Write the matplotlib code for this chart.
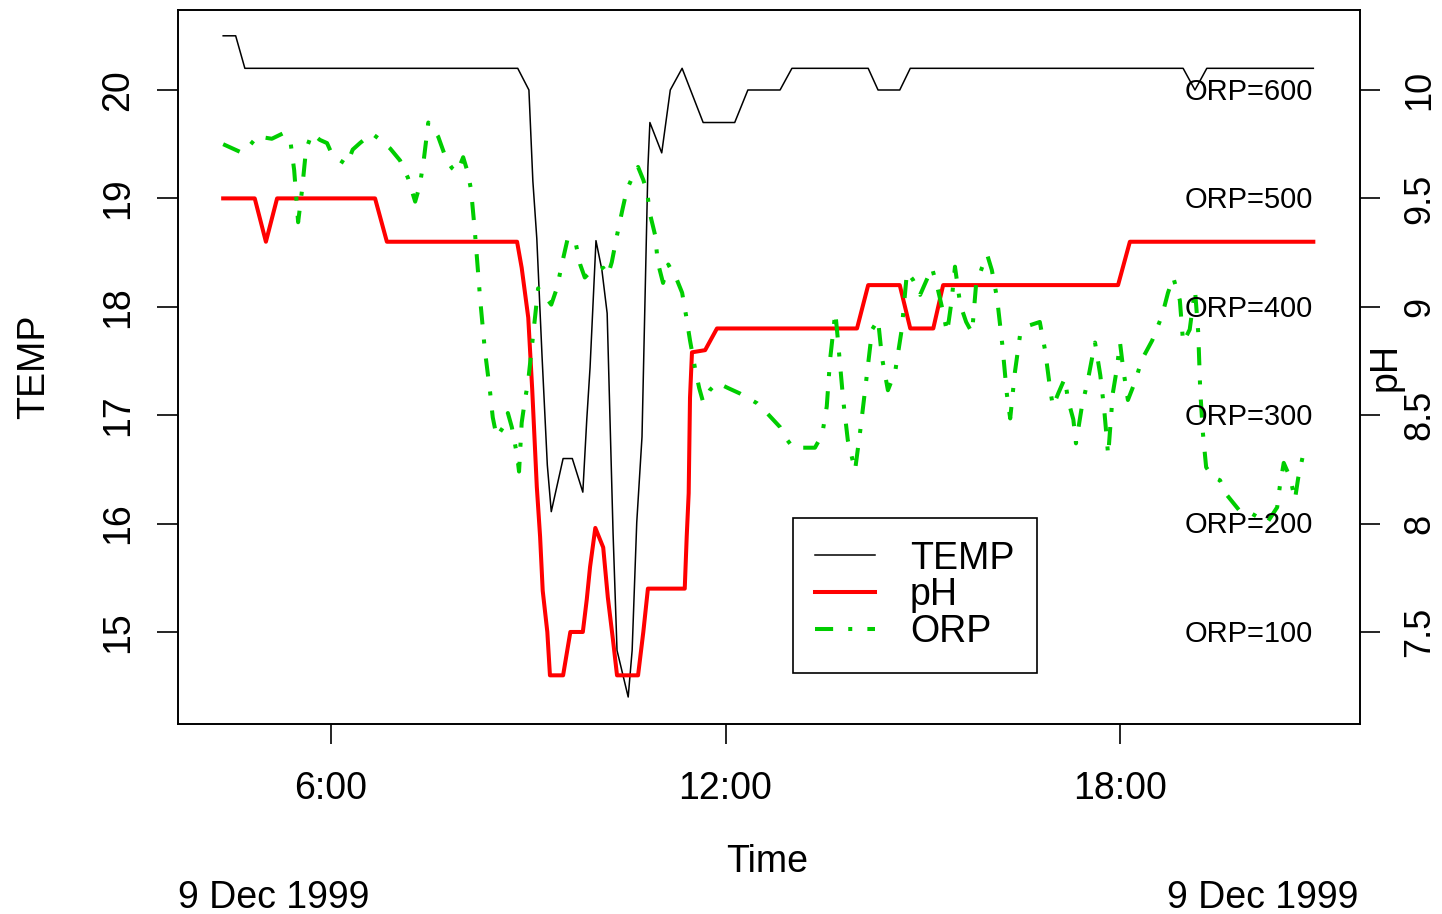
import numpy as np
import matplotlib
matplotlib.use('Agg')
import matplotlib.pyplot as plt
from matplotlib.lines import Line2D

plt.rcParams['font.family'] = ['Liberation Sans', 'DejaVu Sans']

# time in decimal hours on 9 Dec 1999
temp_hours = [4.36, 4.55, 4.69, 8.84, 9.01, 9.07, 9.13, 9.21, 9.29, 9.35, 9.53, 9.67,
              9.83, 9.89, 9.94, 10.03, 10.12, 10.20, 10.29, 10.35, 10.52, 10.58, 10.65,
              10.73, 10.82, 10.85, 11.03, 11.16, 11.34, 11.66, 12.14, 12.34, 12.83, 13.01,
              14.17, 14.32, 14.65, 14.81, 18.96, 19.14, 19.32, 20.94]
temp_vals = [20.5, 20.5, 20.2, 20.2, 20.0, 19.16, 18.63, 17.54, 16.54, 16.11, 16.6, 16.6,
             16.29, 16.96, 17.44, 18.61, 18.34, 17.94, 15.91, 14.83, 14.40, 14.83, 16.01,
             16.80, 19.29, 19.70, 19.42, 20.0, 20.2, 19.7, 19.7, 20.0, 20.0, 20.2,
             20.2, 20.0, 20.0, 20.2, 20.2, 20.0, 20.2, 20.2]

ph_hours = [4.36, 4.84, 5.01, 5.18, 6.67, 6.85, 8.83, 8.90, 9.00, 9.06, 9.13, 9.18, 9.22,
            9.29, 9.33, 9.53, 9.64, 9.83, 9.89, 9.94, 10.02, 10.14, 10.21, 10.29, 10.35,
            10.67, 10.75, 10.82, 11.38, 11.41, 11.44, 11.46, 11.49, 11.69, 11.87, 14.00,
            14.17, 14.65, 14.81, 15.16, 15.31, 17.97, 18.15, 20.94]
ph_vals = [9.5, 9.5, 9.3, 9.5, 9.5, 9.3, 9.3, 9.18, 8.95, 8.62, 8.17, 7.94, 7.69,
           7.5, 7.3, 7.3, 7.5, 7.5, 7.65, 7.8, 7.98, 7.89, 7.66, 7.46, 7.3,
           7.3, 7.5, 7.7, 7.7, 7.94, 8.14, 8.58, 8.79, 8.8, 8.9, 8.9,
           9.1, 9.1, 8.9, 8.9, 9.1, 9.1, 9.3, 9.3]

orp_hours = [4.36, 4.54, 4.65, 4.74, 4.89, 5.00, 5.10, 5.27, 5.38, 5.44, 5.50, 5.56, 5.62,
             5.71, 5.83, 5.94, 6.02, 6.14, 6.24, 6.33, 6.44, 6.62, 6.75, 6.90, 7.05, 7.17,
             7.28, 7.35, 7.41, 7.48, 7.63, 7.76, 7.84, 7.92, 8.01, 8.08, 8.13, 8.19, 8.27,
             8.34, 8.42, 8.46, 8.52, 8.62, 8.69, 8.75, 8.83, 8.86, 8.90, 8.95, 9.00, 9.07,
             9.15, 9.22, 9.30, 9.35, 9.44, 9.51, 9.60, 9.71, 9.79, 9.86, 9.94, 10.05, 10.14,
             10.21, 10.27, 10.35, 10.43, 10.50, 10.58, 10.67, 10.75, 10.81, 10.85, 10.93,
             10.97, 11.05, 11.13, 11.26, 11.34, 11.40, 11.46, 11.54, 11.60, 11.66, 11.76,
             11.87, 12.04, 12.22, 12.48, 12.63, 12.83, 12.94, 13.03, 13.21, 13.36, 13.47,
             13.54, 13.59, 13.67, 13.71, 13.79, 13.86, 13.97, 14.05, 14.14, 14.23, 14.32,
             14.38, 14.47, 14.58, 14.68, 14.76, 14.85, 14.96, 15.06, 15.14, 15.23, 15.31,
             15.37, 15.44, 15.49, 15.57, 15.66, 15.75, 15.81, 15.90, 15.98, 16.05, 16.13,
             16.21, 16.28, 16.33, 16.40, 16.48, 16.63, 16.78, 16.86, 16.94, 16.98, 17.06,
             17.16, 17.21, 17.29, 17.33, 17.42, 17.51, 17.62, 17.70, 17.76, 17.82, 17.89,
             17.95, 18.00, 18.05, 18.12, 18.23, 18.33, 18.49, 18.64, 18.73, 18.81, 18.91,
             18.96, 19.06, 19.14, 19.19, 19.22, 19.26, 19.31, 19.41, 19.52, 19.63, 19.83,
             19.98, 20.24, 20.39, 20.43, 20.49, 20.59, 20.66, 20.71, 20.80]
orp_vals = [550, 545, 542, 547, 558, 556, 555, 560, 554, 526, 478, 508, 545,
            560, 554, 551, 540, 535, 531, 545, 551, 560, 554, 546, 535, 519,
            497, 512, 535, 570, 557, 535, 528, 524, 538, 524, 508, 468, 406,
            360, 321, 298, 280, 289, 302, 289, 263, 248, 293, 314, 332, 372,
            417, 413, 406, 402, 418, 439, 463, 462, 439, 427, 432, 434, 436,
            429, 441, 466, 489, 508, 519, 529, 517, 505, 486, 466,
            441, 422, 439, 425, 413, 392, 369, 342, 325, 312, 323,
            330, 325, 320, 311, 302, 289, 277, 270, 270, 270, 282,
            308, 351, 395, 369, 314, 277, 249, 286, 332, 379, 388,
            353, 323, 340, 379, 432, 425, 411, 425, 436, 416, 395,
            376, 406, 437, 402, 386, 376, 420, 436, 448, 434, 408,
            365, 319, 297, 339, 374, 383, 386, 360, 323, 308, 320,
            334, 314, 296, 274, 308, 332, 367, 337, 305, 263, 320,
            342, 367, 342, 314, 331, 351, 369, 392, 413, 427, 406,
            367, 379, 416, 376, 323, 284, 252, 243, 240, 226, 211,
            210, 201, 215, 234, 256, 242, 222, 242, 268]

orp_refs = [100, 200, 300, 400, 500, 600]
temp_ticks = [15, 16, 17, 18, 19, 20]
ph_ticks = [7.5, 8, 8.5, 9, 9.5, 10]
ph_tick_labels = ['7.5', '8', '8.5', '9', '9.5', '10']
time_ticks = [6, 12, 18]
time_tick_labels = ['6:00', '12:00', '18:00']
date_label = '9 Dec 1999'


def orp_to_ph_scale(v):
    # ORP is drawn on the TEMP scale as 14 + ORP/100, TEMP = 2 * pH
    return (14 + np.asarray(v) / 100.0) / 2.0


W, H = 1442, 914
FS = 27
fig = plt.figure(figsize=(W / 100, H / 100), dpi=100)
ax = fig.add_axes([178 / W, 1 - 724 / H, (1360 - 178) / W, (724 - 10) / H])

ylo, yhi = 14.151, 20.738
ax.set_xlim(3.673, 21.65)
ax.set_ylim(ylo, yhi)
ax.plot(temp_hours, temp_vals, color='black', lw=1.1)

ax2 = ax.twinx()
ax2.set_ylim(ylo / 2, yhi / 2)
ax2.plot(ph_hours, ph_vals, color='red', lw=2.9)
ax2.plot(orp_hours, orp_to_ph_scale(orp_vals), color='#00CD00', lw=2.9,
         linestyle=(0, (4.5, 3.75, 1, 3.75)))

for v in orp_refs:
    ax2.text(20.94, orp_to_ph_scale(v) - 0.008, f'ORP={v}', ha='right', va='center',
             fontsize=21)

ax.set_xticks(time_ticks)
ax.set_xticklabels(time_tick_labels)
ax.set_yticks(temp_ticks)
ax.set_yticklabels([str(t) for t in temp_ticks], rotation=90, va='center')
ax2.set_yticks(ph_ticks)
ax2.set_yticklabels(ph_tick_labels, rotation=90, va='center')

ax.tick_params(axis='x', length=14.5, width=1.2, labelsize=FS, pad=19)
ax.tick_params(axis='y', length=15, width=1.2, labelsize=FS, pad=15)
ax2.tick_params(axis='y', length=14.5, width=1.2, labelsize=FS - 1, pad=16)
for a in (ax, ax2):
    for s in a.spines.values():
        s.set_linewidth(1.2)

handles = [Line2D([], [], color='black', lw=1.1),
           Line2D([], [], color='red', lw=2.9),
           Line2D([], [], color='#00CD00', lw=2.9, linestyle=(0, (4.5, 3.75, 1, 3.75)))]
leg = ax2.legend(handles, ['TEMP', 'pH', 'ORP'], loc='upper left',
                 bbox_to_anchor=(0.5203, 0.2885), borderaxespad=0, fontsize=FS,
                 fancybox=False, framealpha=1, edgecolor='black', handlelength=1.6,
                 handletextpad=0.92, borderpad=0.6, labelspacing=0.02)
leg.get_frame().set_linewidth(1.2)

fig.text(34 / W, 1 - 367 / H, 'TEMP', rotation=90, ha='center', va='center', fontsize=FS)
fig.text(1386 / W, 1 - 367 / H, 'pH', rotation=90, ha='center', va='center', fontsize=FS)
fig.text(767 / W, 1 - 862 / H, 'Time', ha='center', va='center', fontsize=FS)
fig.text(178 / W, 1 - 898 / H, date_label, ha='left', va='center', fontsize=FS)
fig.text(1358 / W, 1 - 898 / H, date_label, ha='right', va='center', fontsize=FS)

fig.savefig('out.png', dpi=100)
